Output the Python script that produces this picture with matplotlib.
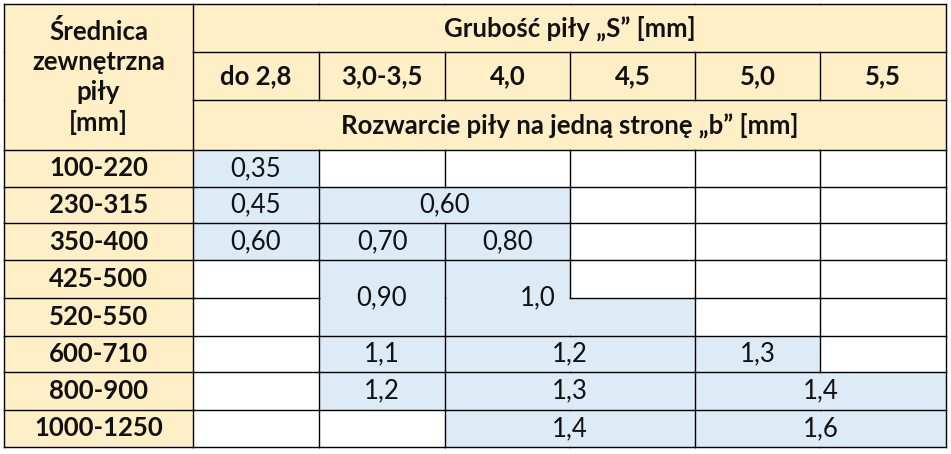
import matplotlib
matplotlib.use("Agg")
import matplotlib.pyplot as plt
from matplotlib.patches import Rectangle

row_labels = ["100-220", "230-315", "350-400", "425-500", "520-550", "600-710", "800-900", "1000-1250"]
col_labels = ["do 2,8", "3,0-3,5", "4,0", "4,5", "5,0", "5,5"]
corner_label = "Średnica\nzewnętrzna\npiły\n[mm]"
top_label = "Grubość piły „S” [mm]"
sub_label = "Rozwarcie piły na jedną stronę „b” [mm]"

# region ids per data row (cols 1..6); '.' = empty white cell
layout = [
    ["a", ".", ".", ".", ".", "."],
    ["b", "c", "c", ".", ".", "."],
    ["d", "e", "f", ".", ".", "."],
    [".", "g", "h", ".", ".", "."],
    [".", "g", "h", "h", ".", "."],
    [".", "i", "j", "j", "k", "."],
    [".", "l", "m", "m", "n", "n"],
    [".", ".", "o", "o", "p", "p"],
]
values = {"a": "0,35", "b": "0,45", "c": "0,60", "d": "0,60", "e": "0,70", "f": "0,80",
          "g": "0,90", "h": "1,0", "i": "1,1", "j": "1,2", "k": "1,3", "l": "1,2",
          "m": "1,3", "n": "1,4", "o": "1,4", "p": "1,6"}

xs = [4, 193, 319, 445, 570, 695, 820, 946]
ys = [4, 52, 100, 150, 187, 223, 260, 298, 336, 372, 410, 447]
YEL = "#FFEFC6"
BLUE = "#DDEBF7"
FONT = ["Lato", "DejaVu Sans"]
FS = 18.5

fig = plt.figure(figsize=(9.51, 4.54), dpi=100)
ax = fig.add_axes([0, 0, 1, 1])
ax.set_xlim(0, 951)
ax.set_ylim(454, 0)
ax.axis("off")

nr, nc = len(ys) - 1, len(xs) - 1
grid = [[None] * nc for _ in range(nr)]
fill = [[None] * nc for _ in range(nr)]
for r in range(3):
    grid[r][0] = "H0"
for c in range(1, nc):
    grid[0][c] = "H1"
    grid[1][c] = "C%d" % c
    grid[2][c] = "H2"
for r in range(3):
    for c in range(nc):
        fill[r][c] = YEL
for i in range(len(row_labels)):
    r = i + 3
    grid[r][0] = "R%d" % i
    fill[r][0] = YEL
    for c in range(1, nc):
        k = layout[i][c - 1]
        grid[r][c] = ("V" + k) if k != "." else "E%d_%d" % (r, c)
        fill[r][c] = BLUE if k != "." else "white"

for r in range(nr):
    for c in range(nc):
        ax.add_patch(Rectangle((xs[c], ys[r]), xs[c + 1] - xs[c], ys[r + 1] - ys[r],
                               facecolor=fill[r][c], edgecolor="none"))

lw = 1.0
for r in range(nr):
    for c in range(nc):
        g = grid[r][c]
        if c + 1 >= nc or grid[r][c + 1] != g:
            ax.plot([xs[c + 1]] * 2, [ys[r], ys[r + 1]], color="black", lw=lw)
        if c == 0:
            ax.plot([xs[0]] * 2, [ys[r], ys[r + 1]], color="black", lw=lw)
        if r + 1 >= nr or grid[r + 1][c] != g:
            ax.plot([xs[c], xs[c + 1]], [ys[r + 1]] * 2, color="black", lw=lw)
        if r == 0:
            ax.plot([xs[c], xs[c + 1]], [ys[0]] * 2, color="black", lw=lw)

def txt(x, y, s, bold=True, **kw):
    ax.text(x, y, s, ha="center", va="center", fontsize=FS, family=FONT,
            fontweight="bold" if bold else "normal", color="#111111", **kw)

txt((xs[0] + xs[1]) / 2, (ys[0] + ys[3]) / 2, corner_label, linespacing=1.3)
txt((xs[1] + xs[-1]) / 2, (ys[0] + ys[1]) / 2, top_label)
txt((xs[1] + xs[-1]) / 2, (ys[2] + ys[3]) / 2, sub_label)
for c, lab in enumerate(col_labels, start=1):
    txt((xs[c] + xs[c + 1]) / 2, (ys[1] + ys[2]) / 2, lab)
for i, lab in enumerate(row_labels):
    txt((xs[0] + xs[1]) / 2, (ys[i + 3] + ys[i + 4]) / 2, lab)

for k, v in values.items():
    cells = [(r, c) for r in range(nr) for c in range(nc) if grid[r][c] == "V" + k]
    r0 = min(r for r, _ in cells); r1 = max(r for r, _ in cells)
    c0 = min(c for _, c in cells); c1 = max(c for _, c in cells)
    x = (xs[c0] + xs[c1 + 1]) / 2
    if k == "h":
        x = (xs[c0] + xs[c0 + 1]) / 2 + 30
    txt(x, (ys[r0] + ys[r1 + 1]) / 2, v, bold=False)

fig.savefig("out.png", dpi=100, facecolor="white")
